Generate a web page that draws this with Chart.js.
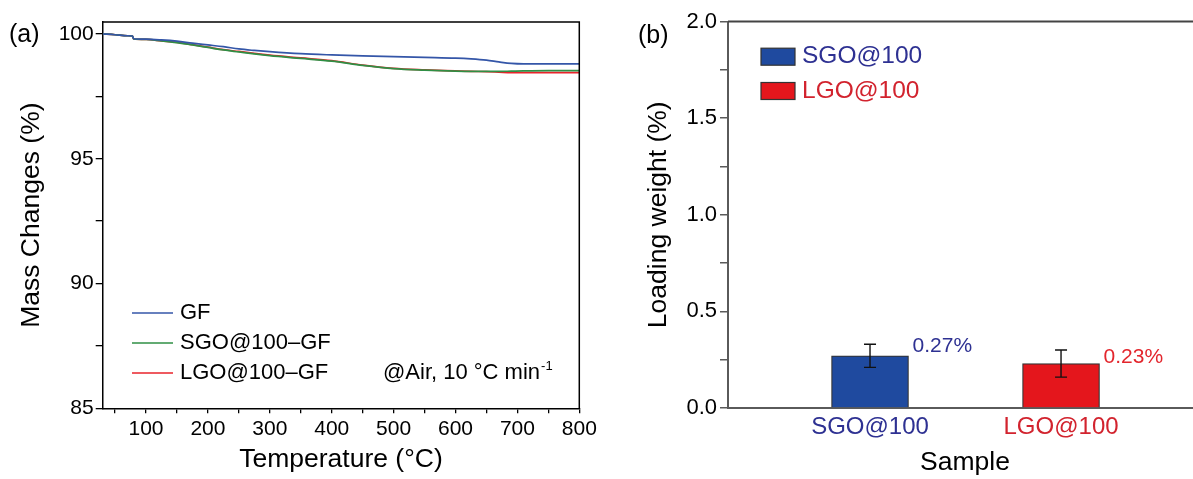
<!DOCTYPE html>
<html><head><meta charset="utf-8">
<script src="https://cdn.jsdelivr.net/npm/chart.js@4.4.0/dist/chart.umd.min.js"></script>
<style>
html,body{margin:0;padding:0;background:#fff;overflow:hidden;width:1193px;height:479px;position:relative;}
#ca{position:absolute;left:0;top:0;}
#cb{position:absolute;left:600px;top:0;}
</style></head><body>
<canvas id="ca" width="600" height="479"></canvas>
<canvas id="cb" width="620" height="479"></canvas>
<script>
// ---- Panel (a) data ----
const temps   = [30, 50, 70, 78, 80, 100, 125, 150, 175, 200, 225, 250, 275, 300, 350, 400, 450, 500, 550, 600, 625, 650, 670, 690, 710, 750, 800];
const gfMass  = [100.00, 99.97, 99.93, 99.92, 99.81, 99.79, 99.76, 99.71, 99.63, 99.56, 99.49, 99.40, 99.34, 99.29, 99.21, 99.16, 99.12, 99.09, 99.06, 99.03, 99.00, 98.95, 98.88, 98.82, 98.80, 98.80, 98.80];
const sgoMass = [100.00, 99.97, 99.93, 99.92, 99.80, 99.78, 99.72, 99.65, 99.56, 99.46, 99.36, 99.28, 99.20, 99.13, 99.02, 98.91, 98.74, 98.61, 98.55, 98.51, 98.50, 98.50, 98.50, 98.51, 98.52, 98.53, 98.53];
const lgoMass = [100.00, 99.97, 99.93, 99.92, 99.80, 99.78, 99.72, 99.66, 99.57, 99.47, 99.37, 99.30, 99.22, 99.15, 99.04, 98.93, 98.75, 98.62, 98.56, 98.52, 98.50, 98.49, 98.47, 98.45, 98.45, 98.45, 98.45];
const seriesNames = ['GF', 'SGO@100\u2013GF', 'LGO@100\u2013GF'];
const xTicksA = [50,100,150,200,250,300,350,400,450,500,550,600,650,700,750,800];
const yTicksA = [85,87.5,90,92.5,95,97.5,100];

// ---- Panel (b) data ----
const samples     = ['SGO@100', 'LGO@100'];
const samplePos   = [1, 2];
const loading     = [0.27, 0.23];
const loadingErr  = [0.06, 0.07];
const valueLabels = ['0.27%', '0.23%'];
const yTicksB     = [0, 0.25, 0.5, 0.75, 1.0, 1.25, 1.5, 1.75, 2.0];

const FAM = '"Liberation Sans", Arial, Helvetica, sans-serif';
const lineColors = ['#3456a8', '#2f8f45', '#e8232b'];
const barColors = ['#1f4a9f', '#e4161c'];
const textColorsB = ['#2e3192', '#d2232e'];
const valueColorsB = ['#2e3192', '#e3262d'];

// ---------- Chart A ----------
const pluginA = {
  id: 'decorA',
  afterDraw(chart) {
    const ctx = chart.ctx, a = chart.chartArea;
    ctx.save();
    ctx.strokeStyle = '#000'; ctx.lineWidth = 1.5;
    ctx.beginPath();
    ctx.moveTo(a.left, a.top); ctx.lineTo(a.right, a.top); ctx.lineTo(a.right, a.bottom);
    ctx.stroke();
    // legend
    ctx.font = '22px ' + FAM; ctx.textBaseline = 'middle'; ctx.fillStyle = '#000';
    chart.data.datasets.forEach((ds, i) => {
      const y = 313 + 30 * i;
      ctx.strokeStyle = ds.borderColor; ctx.lineWidth = 1.6;
      ctx.beginPath(); ctx.moveTo(132, y); ctx.lineTo(173, y); ctx.stroke();
      ctx.fillText(ds.label, 180, y);
    });
    // annotation
    const t = '@Air, 10 \u00B0C min';
    ctx.fillText(t, 383, 373);
    const w = ctx.measureText(t).width;
    ctx.font = '13px ' + FAM;
    ctx.fillText('-1', 383 + w + 1, 366);
    // panel label
    ctx.font = '25px ' + FAM;
    ctx.fillText('(a)', 9, 35);
    ctx.restore();
  }
};

new Chart(document.getElementById('ca'), {
  type: 'line',
  data: {
    datasets: [gfMass, sgoMass, lgoMass].map((arr, k) => ({
      label: seriesNames[k],
      data: temps.map((t, i) => ({x: t, y: arr[i]})),
      borderColor: lineColors[k],
      borderWidth: 1.7,
      pointRadius: 0,
      cubicInterpolationMode: 'monotone',
      fill: false
    }))
  },
  options: {
    responsive: false, animation: false, devicePixelRatio: 1,
    layout: {padding: {left: 0, top: 22, right: 20.7, bottom: 0}},
    plugins: {legend: {display: false}, tooltip: {enabled: false}},
    scales: {
      x: {
        type: 'linear', min: 30, max: 800,
        afterBuildTicks: s => { s.ticks = xTicksA.map(v => ({value: v})); },
        afterFit: s => { s.height = 479 - 408.3; },
        grid: {display: true, drawOnChartArea: false, drawTicks: true, tickLength: 5, color: '#000', lineWidth: 1.3},
        border: {display: true, color: '#000', width: 1.5},
        ticks: {autoSkip: false, maxRotation: 0, padding: 3, color: '#000', font: {family: FAM, size: 21},
          callback: v => (v % 100 === 0 ? String(v) : '')},
        title: {display: true, text: 'Temperature (\u00B0C)', color: '#000', font: {family: FAM, size: 26.5}, padding: {top: 0, bottom: 3}}
      },
      y: {
        type: 'linear', min: 85, max: 100.48,
        afterBuildTicks: s => { s.ticks = yTicksA.map(v => ({value: v})); },
        afterFit: s => { s.width = 102.7; },
        grid: {display: true, drawOnChartArea: false, drawTicks: true, tickLength: 7, color: '#000', lineWidth: 1.3},
        border: {display: true, color: '#000', width: 1.5},
        ticks: {autoSkip: false, padding: 2, color: '#000', font: {family: FAM, size: 21},
          callback: v => (v % 5 === 0 ? String(v) : '')},
        title: {display: true, text: 'Mass Changes (%)', color: '#000', font: {family: FAM, size: 26.5}, padding: {top: 16, bottom: 0}}
      }
    }
  },
  plugins: [pluginA]
});

// ---------- Chart B ----------
const pluginB = {
  id: 'decorB',
  afterDatasetsDraw(chart) {
    const ctx = chart.ctx, xs = chart.scales.x, ys = chart.scales.y;
    ctx.save();
    ctx.strokeStyle = '#111'; ctx.lineWidth = 1.4;
    samplePos.forEach((p, i) => {
      const x = xs.getPixelForValue(p);
      const yt = ys.getPixelForValue(loading[i] + loadingErr[i]);
      const yb = ys.getPixelForValue(loading[i] - loadingErr[i]);
      ctx.beginPath();
      ctx.moveTo(x, yt); ctx.lineTo(x, yb);
      ctx.moveTo(x - 6, yt); ctx.lineTo(x + 6, yt);
      ctx.moveTo(x - 6, yb); ctx.lineTo(x + 6, yb);
      ctx.stroke();
    });
    ctx.restore();
  },
  afterDraw(chart) {
    const ctx = chart.ctx, a = chart.chartArea, xs = chart.scales.x, ys = chart.scales.y;
    ctx.save();
    ctx.strokeStyle = '#444'; ctx.lineWidth = 2;
    ctx.beginPath(); ctx.moveTo(a.left, a.top); ctx.lineTo(a.right, a.top); ctx.lineTo(a.right, a.bottom); ctx.stroke();
    // value labels
    ctx.font = '21px ' + FAM; ctx.textBaseline = 'middle';
    const offs = [10, 6];
    samplePos.forEach((p, i) => {
      const x = xs.getPixelForValue(p) + 38.5 + 4;
      const y = ys.getPixelForValue(loading[i]) - offs[i];
      ctx.fillStyle = valueColorsB[i];
      ctx.fillText(valueLabels[i], x, y);
    });
    // legend
    ctx.font = '24.5px ' + FAM;
    chart.data.datasets.forEach((ds, i) => {
      const cy = i === 0 ? 56.7 : 91;
      ctx.fillStyle = ds.backgroundColor;
      ctx.fillRect(161, cy - 8.5, 34, 17);
      ctx.strokeStyle = '#333'; ctx.lineWidth = 1.2;
      ctx.strokeRect(161, cy - 8.5, 34, 17);
      ctx.fillStyle = textColorsB[i];
      ctx.fillText(ds.label, 202, cy);
    });
    // panel label
    ctx.fillStyle = '#000'; ctx.font = '25px ' + FAM;
    ctx.fillText('(b)', 38, 36);
    ctx.restore();
  }
};

new Chart(document.getElementById('cb'), {
  type: 'bar',
  data: {
    datasets: samples.map((s, i) => ({
      label: s,
      data: [{x: samplePos[i], y: loading[i]}],
      backgroundColor: barColors[i],
      borderColor: '#333',
      borderWidth: 1.2,
      barThickness: 77,
      grouped: false
    }))
  },
  options: {
    responsive: false, animation: false, devicePixelRatio: 1,
    layout: {padding: {left: 0, top: 21.5, right: 18, bottom: 0}},
    plugins: {legend: {display: false}, tooltip: {enabled: false}},
    scales: {
      x: {
        type: 'linear', min: 0.2565, max: 2.738, offset: false,
        afterBuildTicks: s => { s.ticks = samplePos.map(v => ({value: v})); },
        afterFit: s => { s.height = 479 - 408; },
        grid: {display: false, drawTicks: false},
        border: {display: true, color: '#5a5a5a', width: 2},
        ticks: {autoSkip: false, maxRotation: 0, padding: 5, font: {family: FAM, size: 24},
          color: c => textColorsB[c.index],
          callback: v => samples[samplePos.indexOf(v)]},
        title: {display: true, text: 'Sample', color: '#000', font: {family: FAM, size: 26.5}, padding: {top: 0, bottom: 0}}
      },
      y: {
        type: 'linear', min: 0, max: 2,
        afterBuildTicks: s => { s.ticks = yTicksB.map(v => ({value: v})); },
        afterFit: s => { s.width = 128; },
        grid: {display: true, drawOnChartArea: false, drawTicks: true, tickLength: 8, color: '#5a5a5a', lineWidth: 1.5},
        border: {display: true, color: '#5a5a5a', width: 2},
        ticks: {autoSkip: false, padding: 3, color: '#000', font: {family: FAM, size: 22},
          callback: v => (Math.abs(v * 2 - Math.round(v * 2)) < 1e-9 ? v.toFixed(1) : '')},
        title: {display: true, text: 'Loading weight (%)', color: '#000', font: {family: FAM, size: 26.5}, padding: {top: 43, bottom: 0}}
      }
    }
  },
  plugins: [pluginB]
});
</script>
</body></html>
